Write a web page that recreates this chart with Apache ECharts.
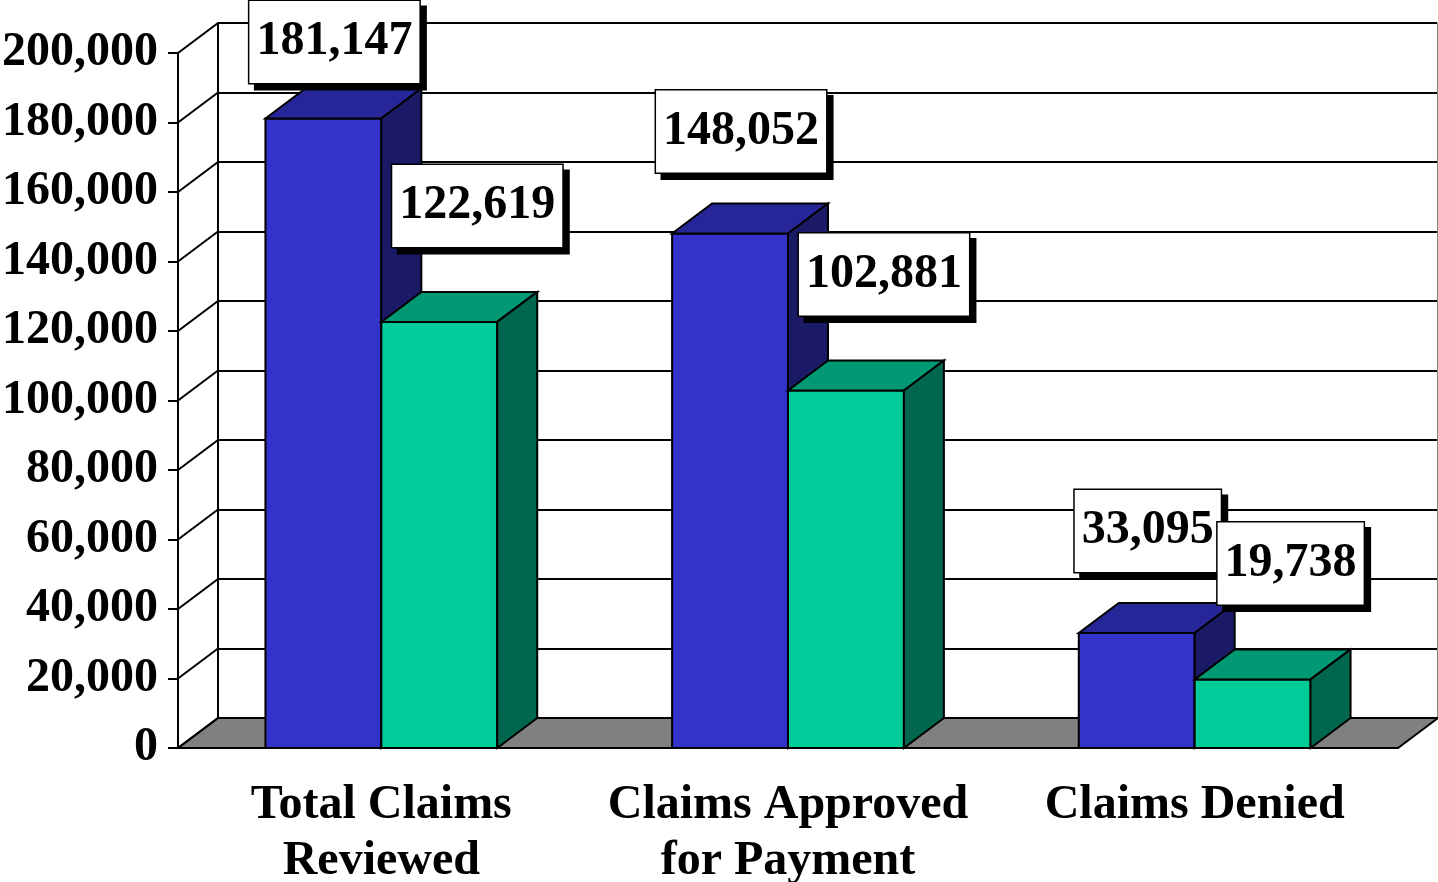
<!DOCTYPE html>
<html>
<head>
<meta charset="utf-8">
<title>Claims</title>
<script src="https://cdn.jsdelivr.net/npm/echarts@6/dist/echarts.min.js"></script>
<style>
    html, body { margin: 0; padding: 0; background: #fff; }
    #chart { width: 1438px; height: 882px; }
</style>
</head>
<body>
<div id="chart"></div>
<script>
// данные графика
const categories = ['Total Claims\nReviewed', 'Claims Approved\nfor Payment', 'Claims Denied'];
const blueValues = [181147, 148052, 33095];
const greenValues = [122619, 102881, 19738];
const yTicks = [0, 20000, 40000, 60000, 80000, 100000, 120000, 140000, 160000, 180000, 200000];

// глубина 3D-эффекта (сдвиг задней стенки)
const DX = 40;
const DY = -30;

const font = { fontFamily: 'Liberation Serif', fontWeight: 'bold', fontSize: 48, color: '#000' };
const fmt = v => Number(v).toLocaleString('en-US');

const palettes = [
    { front: '#3333cc', top: '#262699', side: '#1a1a66', labelDx: 11, labelDy: -102, left: true },
    { front: '#00cc99', top: '#009973', side: '#00664d', labelDx: 38, labelDy: -116, left: false }
];

// рисуем объёмный столбик с подписью
function barRenderer(pal) {
    return (params, api) => {
        const cat = api.value(0);
        const val = api.value(1);
        const top = api.coord([cat, val]);
        const base = api.coord([cat, 0]);
        const barW = api.size([1, 0])[0] * 0.285;
        const x0 = pal.left ? top[0] - barW : top[0];
        const x1 = x0 + barW;
        const yt = top[1];
        const yb = base[1];
        const stroke = { stroke: '#000', lineWidth: 2 };
        const cx = (x0 + x1) / 2 + pal.labelDx;
        const cy = Math.max(42, yt + pal.labelDy);
        return {
            type: 'group',
            children: [
                { type: 'rect', shape: { x: x0, y: yt, width: barW, height: yb - yt }, style: Object.assign({ fill: pal.front }, stroke) },
                { type: 'polygon', shape: { points: [[x0, yt], [x1, yt], [x1 + DX, yt + DY], [x0 + DX, yt + DY]] }, style: Object.assign({ fill: pal.top }, stroke) },
                { type: 'polygon', shape: { points: [[x1, yt], [x1 + DX, yt + DY], [x1 + DX, yb + DY], [x1, yb]] }, style: Object.assign({ fill: pal.side }, stroke) },
                {
                    type: 'text',
                    z2: 10,
                    style: {
                        x: cx, y: cy, text: fmt(val),
                        align: 'center', verticalAlign: 'middle',
                        font: 'bold 48px "Liberation Serif"', fill: '#000',
                        lineHeight: 54, padding: [14, 7],
                        backgroundColor: '#fff', borderColor: '#000', borderWidth: 1.5,
                        shadowColor: '#000', shadowBlur: 0, shadowOffsetX: 6, shadowOffsetY: 6
                    }
                }
            ]
        };
    };
}

const chart = echarts.init(document.getElementById('chart'));

const option = {
    animation: false,
    backgroundColor: '#fff',
    grid: [
        { left: 178, right: 40, top: 53, bottom: 134, containLabel: false, outerBoundsMode: 'none' },
        { left: 218, right: 1, top: 23, bottom: 164, containLabel: false, outerBoundsMode: 'none' }
    ],
    xAxis: [
        {
            type: 'category', gridIndex: 0, data: categories,
            axisLine: { lineStyle: { color: '#000', width: 2 } },
            axisTick: { length: 12, lineStyle: { color: '#000', width: 2 } },
            axisLabel: Object.assign({ interval: 0, margin: 30, lineHeight: 56 }, font)
        },
        { type: 'value', gridIndex: 1, show: false, min: 0, max: 1 }
    ],
    yAxis: [
        {
            type: 'value', gridIndex: 0, min: 0, max: 200000, interval: 20000,
            axisLine: { show: true, lineStyle: { color: '#000', width: 2 } },
            axisTick: { show: true, length: 10, lineStyle: { color: '#000', width: 2 } },
            axisLabel: Object.assign({ margin: 20, formatter: fmt }, font),
            splitLine: { show: false }
        },
        {
            type: 'value', gridIndex: 1, min: 0, max: 200000, interval: 20000,
            axisLine: { show: true, lineStyle: { color: '#000', width: 2 } },
            axisTick: { show: false }, axisLabel: { show: false },
            splitLine: { show: true, lineStyle: { color: '#000', width: 2 } }
        },
        {
            type: 'value', gridIndex: 1, position: 'right', min: 0, max: 200000, interval: 20000,
            axisLine: { show: true, lineStyle: { color: '#808080', width: 1 } },
            axisTick: { show: false }, axisLabel: { show: false }, splitLine: { show: false }
        }
    ],
    series: [
        // пол
        {
            type: 'custom', xAxisIndex: 0, yAxisIndex: 0, z: 1, silent: true,
            data: [[0, 0]],
            renderItem: (params) => {
                const cs = params.coordSys;
                const yb = cs.y + cs.height;
                return {
                    type: 'polygon',
                    shape: { points: [[cs.x, yb], [cs.x + cs.width, yb], [cs.x + cs.width + DX, yb + DY], [cs.x + DX, yb + DY]] },
                    style: { fill: '#808080', stroke: '#000', lineWidth: 2 }
                };
            }
        },
        // диагональные связки от оси к задней стенке
        {
            type: 'custom', xAxisIndex: 0, yAxisIndex: 0, z: 1, silent: true,
            data: yTicks.map(v => [0, v]),
            renderItem: (params, api) => {
                const x = params.coordSys.x;
                const y = api.coord([0, api.value(1)])[1];
                return {
                    type: 'line',
                    shape: { x1: x, y1: y, x2: x + DX, y2: y + DY },
                    style: { stroke: '#000', lineWidth: 2 }
                };
            }
        },
        {
            type: 'custom', xAxisIndex: 0, yAxisIndex: 0, z: 3, silent: true,
            data: blueValues.map((v, i) => [i, v]),
            renderItem: barRenderer(palettes[0])
        },
        {
            type: 'custom', xAxisIndex: 0, yAxisIndex: 0, z: 4, silent: true,
            data: greenValues.map((v, i) => [i, v]),
            renderItem: barRenderer(palettes[1])
        }
    ]
};

chart.setOption(option);
</script>
</body>
</html>
